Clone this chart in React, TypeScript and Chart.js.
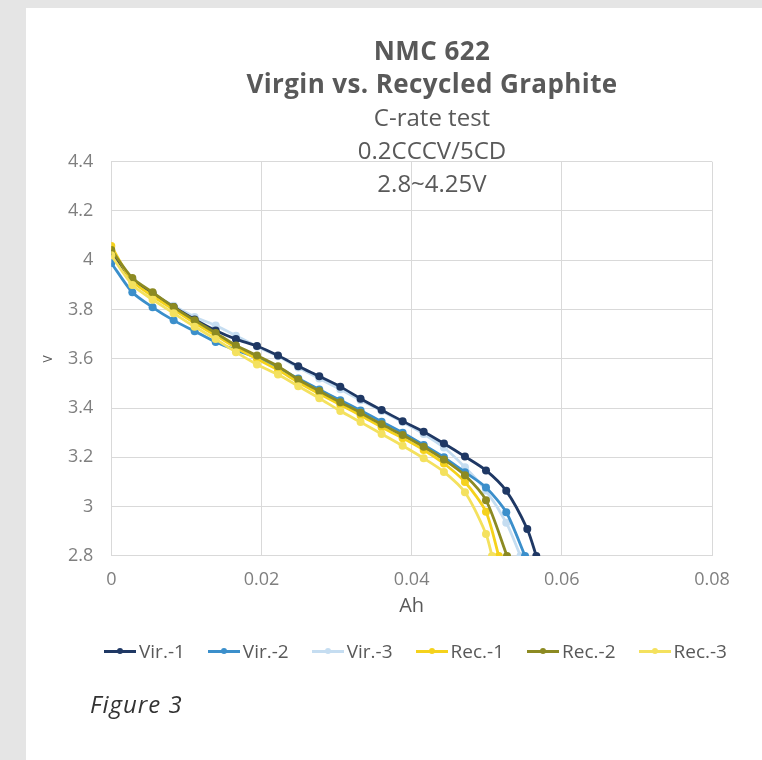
import React, { useEffect, useRef } from "react";
import { Chart, registerables } from "chart.js";

Chart.register(...registerables);

const titleLines = ["NMC 622", "Virgin vs. Recycled Graphite", "C-rate test", "0.2CCCV/5CD", "2.8~4.25V"];
const boldLines = [true, true, false, false, false];
const xAxisTitle = "Ah";
const yAxisTitle = "V";
const caption = "Figure 3";

const xMin = 0;
const xMax = 0.08;
const xStep = 0.02;
const yMin = 2.8;
const yMax = 4.4;
const yStep = 0.2;

const seriesNames = ["Vir.-1", "Vir.-2", "Vir.-3", "Rec.-1", "Rec.-2", "Rec.-3"];
const seriesColors = ["#1f3864", "#3b8fcb", "#c5ddf1", "#f5d21c", "#8c8a22", "#f4e15e"];
// drawing weight: higher is drawn first (further back)
const seriesOrder = [6, 5, 7, 3, 2, 1];

const vir1Ah = [0, 0.0028, 0.0055, 0.0083, 0.0111, 0.0139, 0.0166, 0.0194, 0.0222, 0.0249, 0.0277, 0.0305, 0.0332, 0.036, 0.0388, 0.0416, 0.0443, 0.0471, 0.0499, 0.0526, 0.0554, 0.0566];
const vir1V = [4.03, 3.92, 3.865, 3.81, 3.76, 3.715, 3.68, 3.652, 3.613, 3.57, 3.529, 3.487, 3.438, 3.392, 3.347, 3.304, 3.256, 3.203, 3.147, 3.064, 2.909, 2.8];

const vir2Ah = [0, 0.0028, 0.0055, 0.0083, 0.0111, 0.0139, 0.0166, 0.0194, 0.0222, 0.0249, 0.0277, 0.0305, 0.0332, 0.036, 0.0388, 0.0416, 0.0443, 0.0471, 0.0499, 0.0526, 0.0551];
const vir2V = [3.989, 3.87, 3.809, 3.756, 3.712, 3.668, 3.635, 3.605, 3.565, 3.52, 3.475, 3.432, 3.39, 3.345, 3.3, 3.25, 3.2, 3.14, 3.078, 2.977, 2.8];

const vir3Ah = [0, 0.0028, 0.0055, 0.0083, 0.0111, 0.0139, 0.0166, 0.0194, 0.0222, 0.0249, 0.0277, 0.0305, 0.0332, 0.036, 0.0388, 0.0416, 0.0443, 0.0471, 0.0499, 0.0526, 0.0545];
const vir3V = [4.03, 3.92, 3.865, 3.815, 3.77, 3.735, 3.694, 3.65, 3.61, 3.565, 3.52, 3.476, 3.432, 3.388, 3.343, 3.295, 3.24, 3.16, 3.065, 2.935, 2.8];

const rec1Ah = [0, 0.0028, 0.0055, 0.0083, 0.0111, 0.0139, 0.0166, 0.0194, 0.0222, 0.0249, 0.0277, 0.0305, 0.0332, 0.036, 0.0388, 0.0416, 0.0443, 0.0471, 0.0499, 0.0516];
const rec1V = [4.058, 3.915, 3.855, 3.8, 3.745, 3.695, 3.645, 3.6, 3.555, 3.505, 3.458, 3.413, 3.37, 3.322, 3.278, 3.23, 3.175, 3.1, 2.979, 2.8];

const rec2Ah = [0, 0.0028, 0.0055, 0.0083, 0.0111, 0.0139, 0.0166, 0.0194, 0.0222, 0.0249, 0.0277, 0.0305, 0.0332, 0.036, 0.0388, 0.0416, 0.0443, 0.0471, 0.0499, 0.0527];
const rec2V = [4.042, 3.928, 3.87, 3.81, 3.756, 3.705, 3.654, 3.613, 3.57, 3.516, 3.469, 3.424, 3.381, 3.334, 3.291, 3.243, 3.191, 3.127, 3.026, 2.8];

const rec3Ah = [0, 0.0028, 0.0055, 0.0083, 0.0111, 0.0139, 0.0166, 0.0194, 0.0222, 0.0249, 0.0277, 0.0305, 0.0332, 0.036, 0.0388, 0.0416, 0.0443, 0.0471, 0.0499, 0.0507];
const rec3V = [4.02, 3.9, 3.84, 3.785, 3.73, 3.68, 3.627, 3.577, 3.536, 3.489, 3.44, 3.388, 3.343, 3.295, 3.247, 3.196, 3.141, 3.058, 2.889, 2.8];

const seriesAh = [vir1Ah, vir2Ah, vir3Ah, rec1Ah, rec2Ah, rec3Ah];
const seriesV = [vir1V, vir2V, vir3V, rec1V, rec2V, rec3V];

const FONT = "'Open Sans', 'Noto Sans', sans-serif";
const TEXT = "#595959";
const TICK = "#7f7f7f";
const GRID = "#d9d9d9";

const fmt = (v: number | string) => String(Number(Number(v).toFixed(3)));

export default function App() {
  const ref = useRef<HTMLCanvasElement>(null);

  useEffect(() => {
    if (!ref.current) return;
    const datasets = seriesNames.map((name, i) => ({
      label: name,
      data: seriesAh[i].map((x, j) => ({ x, y: seriesV[i][j] })),
      borderColor: seriesColors[i],
      backgroundColor: seriesColors[i],
      pointBackgroundColor: seriesColors[i],
      pointBorderColor: seriesColors[i],
      borderWidth: 2.8,
      pointRadius: 4,
      pointBorderWidth: 0,
      tension: 0.25,
      fill: false,
      order: seriesOrder[i],
    }));
    const chart = new Chart(ref.current, {
      type: "line",
      data: { datasets },
      options: {
        responsive: false,
        maintainAspectRatio: false,
        devicePixelRatio: 1,
        animation: false,
        layout: { padding: { left: 30, right: 50, top: 161.7, bottom: 141.6 } },
        plugins: {
          legend: { display: false },
          title: { display: false },
          tooltip: { enabled: false },
        },
        scales: {
          x: {
            type: "linear",
            min: xMin,
            max: xMax,
            ticks: {
              stepSize: xStep,
              padding: 13,
              color: TICK,
              font: { family: FONT, size: 18 },
              callback: (v: any) => fmt(v),
            },
            grid: { color: GRID, drawTicks: false, lineWidth: 1 },
            border: { color: GRID },
            title: {
              display: true,
              text: xAxisTitle,
              color: TEXT,
              font: { family: FONT, size: 20 },
              padding: 0,
            },
            afterFit: (s: any) => {
              s.height = 62.5;
            },
          },
          y: {
            type: "linear",
            min: yMin,
            max: yMax,
            ticks: {
              stepSize: yStep,
              padding: 18,
              color: TICK,
              font: { family: FONT, size: 18 },
              callback: (v: any) => fmt(v),
            },
            grid: { color: GRID, drawTicks: false, lineWidth: 1 },
            border: { color: GRID },
            title: {
              display: true,
              text: yAxisTitle,
              color: TEXT,
              font: { family: FONT, size: 12 },
              padding: { top: 11, bottom: 0 },
            },
            afterFit: (s: any) => {
              s.width = 81.3;
            },
          },
        },
      },
    });
    return () => chart.destroy();
  }, []);

  return (
    <div
      style={{
        position: "fixed",
        left: 0,
        top: 0,
        width: 762,
        height: 760,
        background: "#e5e5e5",
        overflow: "hidden",
        fontFamily: FONT,
      }}
    >
      <div style={{ position: "absolute", left: 26, top: 8, right: 0, bottom: 0, background: "#ffffff" }} />
      <canvas
        ref={ref}
        width={762}
        height={760}
        style={{ position: "absolute", left: 0, top: 0, width: 762, height: 760 }}
      />
      <div
        style={{
          position: "absolute",
          left: 182,
          width: 500,
          top: 34,
          textAlign: "center",
          color: TEXT,
          pointerEvents: "none",
        }}
      >
        {titleLines.map((t, i) => (
          <div
            key={i}
            style={{
              fontSize: boldLines[i] ? 26 : 24,
              fontWeight: boldLines[i] ? 700 : 400,
              letterSpacing: boldLines[i] ? 0.4 : 0,
              lineHeight: "33px",
              height: 33,
              whiteSpace: "nowrap",
            }}
          >
            {t}
          </div>
        ))}
      </div>
      <div
        style={{
          position: "absolute",
          left: 0,
          width: 831,
          top: 638,
          height: 26,
          display: "flex",
          justifyContent: "center",
          alignItems: "center",
          color: TEXT,
          fontSize: 19,
          pointerEvents: "none",
        }}
      >
        {seriesNames.map((name, i) => (
          <div key={i} style={{ display: "flex", alignItems: "center", marginRight: i < seriesNames.length - 1 ? 23 : 0 }}>
            <div style={{ position: "relative", width: 32, height: 12, marginRight: 3 }}>
              <div
                style={{
                  position: "absolute",
                  left: 0,
                  right: 0,
                  top: 5,
                  height: 2.5,
                  background: seriesColors[i],
                }}
              />
              <div
                style={{
                  position: "absolute",
                  left: 13,
                  top: 3,
                  width: 6,
                  height: 6,
                  borderRadius: 3,
                  background: seriesColors[i],
                }}
              />
            </div>
            <span style={{ whiteSpace: "nowrap" }}>{name}</span>
          </div>
        ))}
      </div>
      <div
        style={{
          position: "absolute",
          left: 90,
          top: 687,
          fontSize: 24,
          fontStyle: "italic",
          letterSpacing: 1,
          color: "#333333",
          whiteSpace: "nowrap",
        }}
      >
        {caption}
      </div>
    </div>
  );
}
